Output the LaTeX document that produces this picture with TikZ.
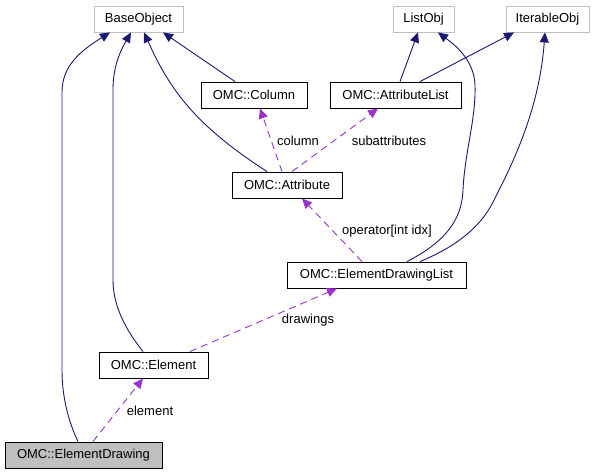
\documentclass[tikz,border=0pt]{standalone}
\usepackage{fontspec}
\setmainfont{Liberation Sans}
\usetikzlibrary{arrows.meta,calc}
\definecolor{navy}{HTML}{191970}
\definecolor{purp}{HTML}{9A32CD}
\definecolor{gry}{HTML}{BFBFBF}
\begin{document}
\begin{tikzpicture}[x=1pt,y=-1pt,
  box/.style={draw=black, line width=0.9pt, minimum height=26pt, inner sep=0pt, font=\fontsize{13}{15}\selectfont},
  ext/.style={draw=gry, line width=0.9pt, minimum height=26pt, inner sep=0pt, font=\fontsize{13}{15}\selectfont},
  inh/.style={draw=navy, line width=0.9pt, -{Triangle[length=10pt,width=9pt]}},
  use/.style={draw=purp, line width=0.9pt, dash pattern=on 7pt off 5pt, -{Triangle[length=10pt,width=9pt]}},
  lbl/.style={font=\fontsize{13}{15}\selectfont, inner sep=0pt}]
\useasboundingbox (0,0) rectangle (595,474);
\node[ext, minimum width=89pt] (bo) at (138.5,19) {BaseObject};
\node[ext, minimum width=61pt] (lo) at (423.5,19) {ListObj};
\node[ext, minimum width=83pt] (io) at (547.5,19) {IterableObj};
\node[box, minimum width=106pt] (col) at (254,95) {OMC::Column};
\node[box, minimum width=131pt] (al) at (395.5,95) {OMC::AttributeList};
\node[box, minimum width=110pt] (att) at (287,185) {OMC::Attribute};
\node[box, minimum width=179pt] (edl) at (376.5,275) {OMC::ElementDrawingList};
\node[box, minimum width=109pt] (el) at (153.5,365) {OMC::Element};
\node[box, minimum width=157pt, fill=gry] (ed) at (83.5,455) {OMC::ElementDrawing};
% inheritance
\draw[inh] ($(ed.north)+(-5.5,0)$) .. controls (70,425) and (62,400) .. (62,370) -- (62,92) .. controls (62,65) and (82,50) .. ($(bo.south)+(-28.5,0)$);
\draw[inh] ($(el.north)+(-10.5,0)$) .. controls (130,335) and (113,310) .. (113,280) -- (113,90) .. controls (113,70) and (118,55) .. ($(bo.south)+(-7.5,0)$);
\draw[inh] ($(att.north)+(-20,0)$) .. controls (195,125) and (170,90) .. ($(bo.south)+(5.5,0)$);
\draw[inh] ($(col.north)+(-19,0)$) -- ($(bo.south)+(24.5,0)$);
\draw[inh] ($(al.north)+(4.5,0)$) -- ($(lo.south)+(-5.5,0)$);
\draw[inh] ($(al.north)+(24.5,0)$) -- ($(io.south)+(-33.5,0)$);
\draw[inh] ($(edl.north)+(30.5,0)$) .. controls (445,242) and (462,220) .. (463,190) .. controls (465,150) and (476,120) .. (475,85) .. controls (474,60) and (455,45) .. ($(lo.south)+(14.5,0)$);
\draw[inh] ($(edl.north)+(43.5,0)$) .. controls (465,243) and (485,220) .. (495,198) .. controls (520,150) and (540,100) .. ($(io.south)+(-2.5,0)$);
% usage
\draw[use] ($(att.north)+(-5,0)$) -- ($(col.south)+(6,0)$);
\node[lbl] (lcol) at (298,141) {column};
\draw[use] ($(att.north)+(5,0)$) -- ($(al.south)+(-17.5,0)$);
\node[lbl] (lsub) at (389,141) {subattributes};
\draw[use] ($(edl.north)+(-14.5,0)$) -- ($(att.south)+(15,0)$);
\node[lbl] (lop) at (387,231) {operator[int idx]};
\draw[use] ($(el.north)+(36.5,0)$) -- ($(edl.south)+(-39.5,0)$);
\node[lbl] (ldr) at (308,320) {drawings};
\draw[use] ($(ed.north)+(9.5,0)$) -- ($(el.south)+(-10.5,0)$);
\node[lbl] (lel) at (150,411) {element};
\end{tikzpicture}
\end{document}
